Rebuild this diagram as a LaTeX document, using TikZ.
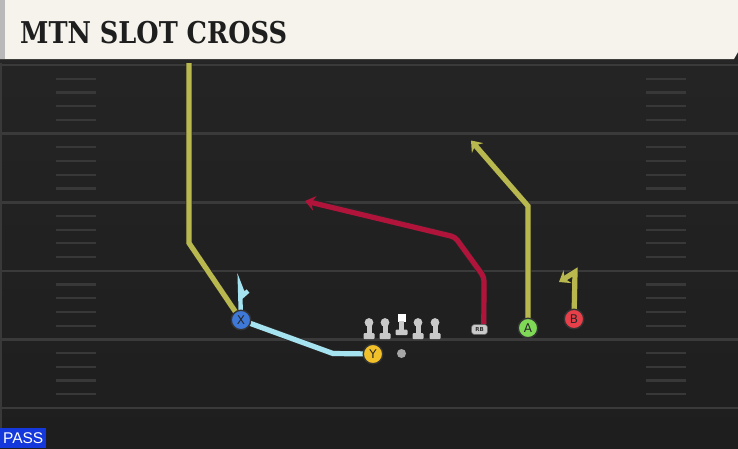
\documentclass[tikz,border=0pt]{standalone}
\usepackage{fontspec}
\setmainfont{DejaVu Sans}
\newfontfamily\titlefont{DejaVu Serif Bold}
\newfontfamily\passfont{Liberation Sans}
\usetikzlibrary{arrows.meta}
\definecolor{bgtop}{HTML}{252525}
\definecolor{bgbot}{HTML}{1E1E1E}
\definecolor{fline}{HTML}{3A3A3A}
\definecolor{hashc}{HTML}{383838}
\definecolor{titlebg}{HTML}{F5F3EC}
\definecolor{titletx}{HTML}{1E1E1E}
\definecolor{olivec}{HTML}{B8B84E}
\definecolor{redc}{HTML}{B0143A}
\definecolor{bluec}{HTML}{A6E3F0}
\definecolor{xcol}{HTML}{3F79D8}
\definecolor{ycol}{HTML}{F2C12A}
\definecolor{acol}{HTML}{7FD957}
\definecolor{bcol}{HTML}{E8404A}
\definecolor{lmc}{HTML}{C9C9C9}
\definecolor{passbg}{HTML}{1438DC}
\pgfdeclarelayer{fieldlayer}
\pgfdeclarelayer{routelayer}
\pgfsetlayers{fieldlayer,routelayer,main}
\tikzset{
  fieldline/.style={draw=fline,line width=2.6pt},
  hashmark/.style={draw=hashc,line width=2.2pt},
  routeback/.style={draw=black!85,line width=6.6pt},
  routeline/.style={line width=5.2pt,line join=miter,line cap=butt},
  oliveroute/.style={routeline,draw=olivec},
  redroute/.style={routeline,draw=redc},
  blueroute/.style={routeline,draw=bluec},
  tipped/.style={-{Stealth[length=10pt,width=15pt,inset=3.5pt]}},
  player/.style={circle,minimum size=19.5pt,inner sep=0pt,draw=black!80,line width=1.4pt,
    text=black!85,font=\fontsize{12}{12}\selectfont},
  rbbox/.style={rounded corners=3pt,fill=lmc,draw=black!60,line width=0.6pt,minimum width=16pt,
    minimum height=10pt,inner sep=0pt,text=black!80,font=\bfseries\fontsize{5.5}{5.5}\selectfont},
  qbdot/.style={circle,fill=gray!70,minimum size=9pt,inner sep=0pt},
  lman/.pic={
    \fill[lmc] (0,322.5) circle (4.4);
    \fill[lmc] (-2.5,322) rectangle (2.5,335);
    \fill[lmc,rounded corners=1pt] (-5.5,333) rectangle (5.5,339);
  },
  cman/.pic={
    \fill[white] (-4,313.5) rectangle (4,321.5);
    \fill[lmc] (-2.5,321) rectangle (2.5,331);
    \fill[lmc,rounded corners=1pt] (-6,329.5) rectangle (6,335);
  }
}
\begin{document}
\begin{tikzpicture}[x=1pt,y=-1pt]
\useasboundingbox (0,0) rectangle (738,448);
% field
\begin{pgfonlayer}{fieldlayer}
\shade[top color=bgtop,bottom color=bgbot] (0,0) rectangle (738,448);
\foreach \i in {0,...,5} {
  \draw[fieldline] (2,{65+68.6*\i}) -- (738,{65+68.6*\i});
}
\foreach \i in {0,...,4} {
  \foreach \j in {1,...,4} {
    \draw[hashmark] (56,{65+68.6*\i+13.72*\j}) -- (96,{65+68.6*\i+13.72*\j});
    \draw[hashmark] (646,{65+68.6*\i+13.72*\j}) -- (686,{65+68.6*\i+13.72*\j});
  }
}
\draw[draw=gray!45!black,line width=2.5pt] (1,59) -- (1,448);
\end{pgfonlayer}

% players
\node[player,fill=xcol] (X) at (241,320) {X};
\node[player,fill=ycol] (Y) at (373,354) {Y};
\node[player,fill=acol] (A) at (528,328) {A};
\node[player,fill=bcol] (B) at (574,319) {B};
\node[rbbox] (RB) at (479.5,329.5) {RB};
\node[qbdot] (QB) at (401.5,353.5) {};
\pic at (369,0) {lman};
\pic at (385,0) {lman};
\pic at (401.5,0) {cman};
\pic at (418,0) {lman};
\pic at (435,0) {lman};

% route points
\coordinate (xbend) at (189,243);
\coordinate (xend) at (189,50);
\coordinate (ybend) at (333,353.5);
\coordinate (xs1) at (240,286);
\coordinate (xs2) at (243.5,295);
\coordinate (xs3) at (248,291);
\coordinate (rb1) at (484,277);
\coordinate (rb2) at (455,237);
\coordinate (rbend) at (305,201);
\coordinate (abend) at (528,206);
\coordinate (aend) at (471,140.5);
\coordinate (btop) at (575,272);
\coordinate (bend) at (559,282);

\begin{pgfonlayer}{routelayer}
\draw[routeback] (X.center) -- (xbend) -- (xend);
\draw[oliveroute] (X.center) -- (xbend) -- (xend);
\draw[routeback] (Y.center) -- (ybend) -- (X.center);
\draw[blueroute] (Y.center) -- (ybend) -- (X.center);
\draw[blueroute,line width=4.4pt] (X.center) -- (xs1) -- (xs2) -- (xs3);
\draw[routeback,rounded corners=4pt] (RB.north east) ++(-4,0) -- (rb1) -- (rb2) -- ([xshift=5pt]rbend);
\draw[redroute,tipped,rounded corners=4pt] (RB.north east) ++(-4,0) -- (rb1) -- (rb2) -- (rbend);
\draw[routeback] (A.center) -- (abend) -- ([shift={(3,3.5)}]aend);
\draw[oliveroute,tipped] (A.center) -- (abend) -- (aend);
\draw[routeback] (B.center) -- (btop) -- ([shift={(3,-1)}]bend);
\draw[oliveroute,tipped] (B.center) -- (btop) -- (bend);
\end{pgfonlayer}

% title bar
\fill[black!85] (0,56) rectangle (738,63);
\fill[titlebg] (0,0) -- (738,0) -- (738,52) -- (734,59) -- (0,59) -- cycle;
\fill[gray!55] (0,0) rectangle (4.5,59);
\node[anchor=base west,inner sep=0pt,text=titletx] (title) at (20,43)
  {\resizebox{267pt}{\height}{\titlefont\fontsize{30}{31}\selectfont MTN SLOT CROSS}};

% pass label
\node[fill=passbg,anchor=south west,minimum width=46pt,minimum height=20pt,inner sep=0pt,
  text=white,font=\passfont\fontsize{15.5}{15.5}\selectfont] (pass) at (0,448) {PASS};
\end{tikzpicture}
\end{document}
